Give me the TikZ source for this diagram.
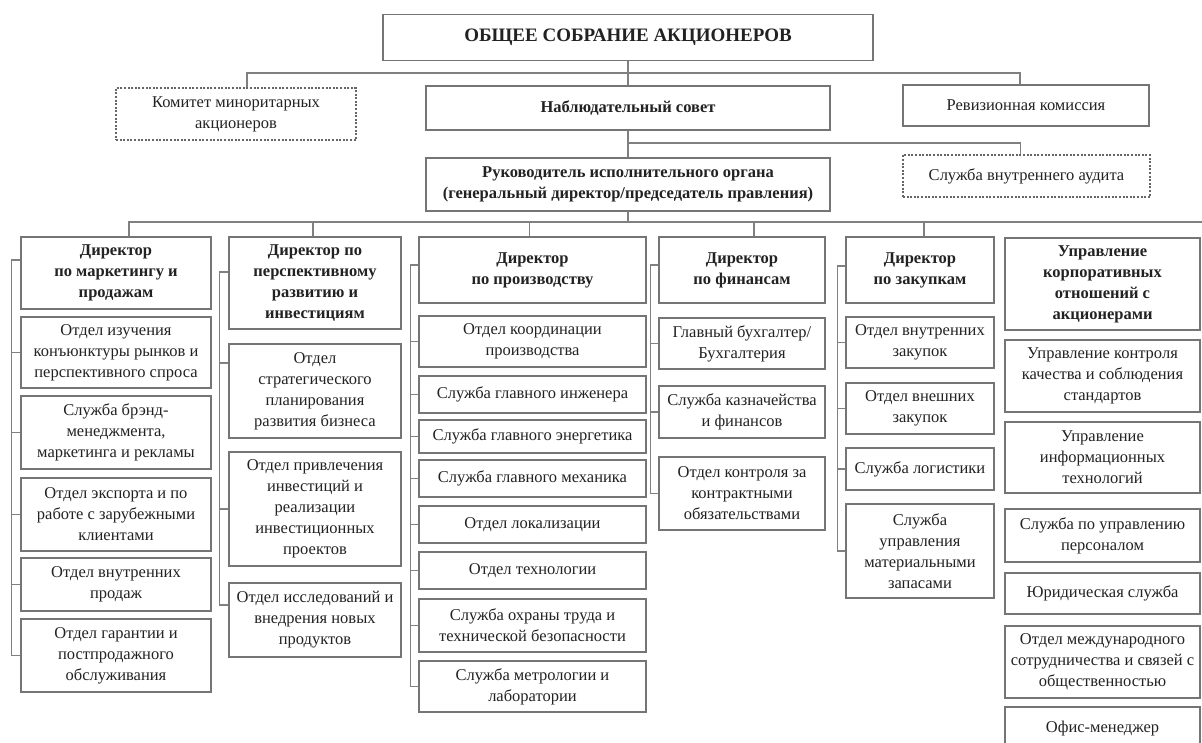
\documentclass[tikz,border=0pt]{standalone}
\usepackage{fontspec}
\setmainfont{Liberation Serif}
\definecolor{linegray}{HTML}{808080}
\definecolor{boxgray}{HTML}{757575}
\definecolor{inkgray}{HTML}{222222}
\begin{document}
\begin{tikzpicture}[x=1pt,y=-1pt,
   every node/.style={draw=boxgray, line width=1.3pt, align=center, inner sep=0pt,
     text=inkgray, font=\fontsize{16.5}{21}\selectfont},
   head/.style={font=\fontsize{16.5}{21}\selectfont\bfseries},
   dotbox/.style={draw=black!60, dash pattern=on 2pt off 1.6pt},
   link/.style={draw=linegray, line width=1.3pt},
   c1/.style={minimum width=190},
   c2/.style={minimum width=172},
   c3/.style={minimum width=227},
   c4/.style={minimum width=166},
   c5/.style={minimum width=148},
   c6/.style={minimum width=195}]

\fill[white] (0,0) rectangle (1202,742);
\useasboundingbox (0,0) rectangle (1202,742);

\node[minimum width=490, minimum height=46, font=\fontsize{19}{22}\selectfont\bfseries]
   (gsa) at (628,37.5) {ОБЩЕЕ СОБРАНИЕ АКЦИОНЕРОВ};
\node[dotbox, minimum width=240, minimum height=52] (kmk) at (236,114) {Комитет миноритарных\\акционеров};
\node[head, minimum width=404, minimum height=44] (ns) at (628,108) {Наблюдательный совет};
\node[minimum width=246, minimum height=41] (rk) at (1026,105.5) {Ревизионная комиссия};
\node[head, minimum width=404, minimum height=53] (rio) at (628,184.5)
   {Руководитель исполнительного органа\\(генеральный директор/председатель правления)};
\node[dotbox, minimum width=247, minimum height=42] (sva) at (1026.5,176) {Служба внутреннего аудита};

\coordinate (b1) at (628,73);
\coordinate (b2) at (628,143);
\coordinate (b3) at (628,222);
\coordinate (bend) at (1202,222);

\draw[link] (gsa.south) -- (ns.north);
\draw[link] ([xshift=11]kmk.north) |- (b1) -| ([xshift=-6]rk.north);
\draw[link] (ns.south) -- (rio.north);
\draw[link] (b2) -| ([xshift=-6]sva.north);

% directors
\node[head, c1, minimum height=72] (d1) at (116,273) {Директор\\по маркетингу и\\продажам};
\node[head, c2, minimum height=92] (d2) at (315,283) {Директор по\\перспективному\\развитию и\\инвестициям};
\node[head, c3, minimum height=66] (d3) at (532.5,270) {Директор\\по производству};
\node[head, c4, minimum height=66] (d4) at (742,270) {Директор\\по финансам};
\node[head, c5, minimum height=66] (d5) at (920,270) {Директор\\по закупкам};
\node[head, c6, minimum height=92] (d6) at (1102.5,284) {Управление\\корпоративных\\отношений с\\акционерами};

\draw[link] (rio.south) -- (b3);
\draw[link] ([xshift=13]d1.north) |- (b3) -- (bend);
\draw[link] ([xshift=-2]d2.north) -- ([xshift=-2]d2.north |- b3);
\draw[link] ([xshift=-3]d3.north) -- ([xshift=-3]d3.north |- b3);
\draw[link] ([xshift=12]d4.north) -- ([xshift=12]d4.north |- b3);
\draw[link] ([xshift=4]d5.north) -- ([xshift=4]d5.north |- b3);

% column 1
\node[c1, minimum height=71] (m1a) at (116,352.5) {Отдел изучения\\конъюнктуры рынков и\\перспективного спроса};
\node[c1, minimum height=73] (m1b) at (116,432.5) {Служба брэнд-\\менеджмента,\\маркетинга и рекламы};
\node[c1, minimum height=73] (m1c) at (116,514.5) {Отдел экспорта и по\\работе с зарубежными\\клиентами};
\node[c1, minimum height=53] (m1d) at (116,584.5) {Отдел внутренних\\продаж};
\node[c1, minimum height=73] (m1e) at (116,655.5) {Отдел гарантии и\\постпродажного\\обслуживания};

% column 2
\node[c2, minimum height=94] (m2a) at (315,391) {Отдел\\стратегического\\планирования\\развития бизнеса};
\node[c2, minimum height=114] (m2b) at (315,509) {Отдел привлечения\\инвестиций и\\реализации\\инвестиционных\\проектов};
\node[c2, minimum height=74] (m2c) at (315,620) {Отдел исследований и\\внедрения новых\\продуктов};

% column 3
\node[c3, minimum height=51] (m3a) at (532.5,341.5) {Отдел координации\\производства};
\node[c3, minimum height=37] (m3b) at (532.5,394.5) {Служба главного инженера};
\node[c3, minimum height=33] (m3c) at (532.5,436.5) {Служба главного энергетика};
\node[c3, minimum height=37] (m3d) at (532.5,478.5) {Служба главного механика};
\node[c3, minimum height=37] (m3e) at (532.5,524.5) {Отдел локализации};
\node[c3, minimum height=37] (m3f) at (532.5,570.5) {Отдел технологии};
\node[c3, minimum height=53] (m3g) at (532.5,625.5) {Служба охраны труда и\\технической безопасности};
\node[c3, minimum height=51] (m3h) at (532.5,686.5) {Служба метрологии и\\лаборатории};

% column 4
\node[c4, minimum height=51] (m4a) at (742,343.5) {Главный бухгалтер/\\Бухгалтерия};
\node[c4, minimum height=52] (m4b) at (742,412) {Служба казначейства\\и финансов};
\node[c4, minimum height=73] (m4c) at (742,493.5) {Отдел контроля за\\контрактными\\обязательствами};

% column 5
\node[c5, minimum height=51] (m5a) at (920,342.5) {Отдел внутренних\\закупок};
\node[c5, minimum height=51] (m5b) at (920,408.5) {Отдел внешних\\закупок};
\node[c5, minimum height=42] (m5c) at (920,469) {Служба логистики};
\node[c5, minimum height=94] (m5d) at (920,551) {Служба\\управления\\материальными\\запасами};

% column 6
\node[c6, minimum height=72] (m6a) at (1102.5,376) {Управление контроля\\качества и соблюдения\\стандартов};
\node[c6, minimum height=71] (m6b) at (1102.5,457.5) {Управление\\информационных\\технологий};
\node[c6, minimum height=53] (m6c) at (1102.5,535.5) {Служба по управлению\\персоналом};
\node[c6, minimum height=41] (m6d) at (1102.5,593.5) {Юридическая служба};
\node[c6, minimum height=72] (m6e) at (1102.5,662) {Отдел международного\\сотрудничества и связей с\\общественностью};
\node[c6, minimum height=43] (m6f) at (1102.5,728.5) {Офис-менеджер};

% side lines
\draw[link] ([yshift=13]d1.west) -- ++(-9,0) coordinate (t1);
\foreach \n in {m1a,m1b,m1c,m1d,m1e}
   \draw[link] (t1) |- (\n.west);
\draw[link] ([yshift=11]d2.west) -- ++(-9,0) coordinate (t2);
\draw[link] (t2) |- ([yshift=28]m2a.west);
\draw[link] (t2) |- (m2b.west);
\draw[link] (t2) |- ([yshift=15]m2c.west);
\draw[link] ([yshift=5]d3.west) -- ++(-8,0) coordinate (t3);
\foreach \n in {m3a,m3b,m3c,m3d,m3e,m3f,m3g,m3h}
   \draw[link] (t3) |- (\n.west);
\draw[link] ([yshift=5]d4.west) -- ++(-8,0) coordinate (t4);
\foreach \n in {m4a,m4b,m4c}
   \draw[link] (t4) |- (\n.west);
\draw[link] ([yshift=4]d5.west) -- ++(-8,0) coordinate (t5);
\foreach \n in {m5a,m5b,m5c,m5d}
   \draw[link] (t5) |- (\n.west);

\end{tikzpicture}
\end{document}
